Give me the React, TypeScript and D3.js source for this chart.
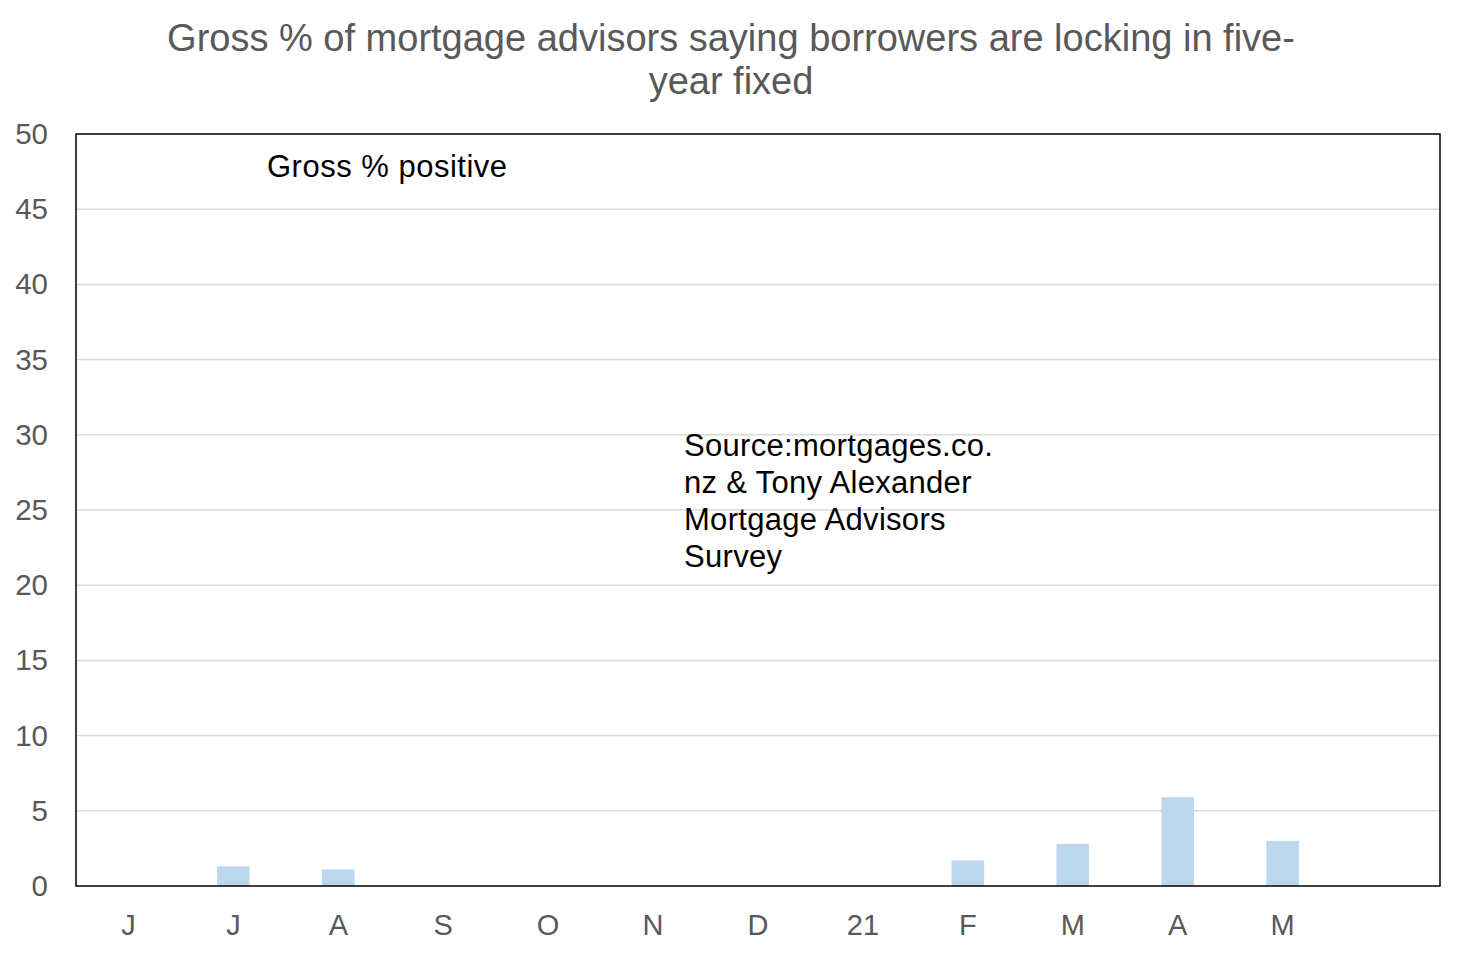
import React from "react";
import * as d3 from "d3";

const categories = ["J", "J", "A", "S", "O", "N", "D", "21", "F", "M", "A", "M", ""];
const values: (number | null)[] = [null, 1.3, 1.1, null, null, null, null, null, 1.7, 2.8, 5.9, 3.0, null];
const yTicks = [0, 5, 10, 15, 20, 25, 30, 35, 40, 45, 50];
const titleLines = ["Gross % of mortgage advisors saying borrowers are locking in five-", "year fixed"];
const sourceLines = ["Source:mortgages.co.", "nz & Tony Alexander", "Mortgage Advisors", "Survey"];
const seriesLabel = "Gross % positive";

const W = 1462, H = 954;
const L = 76, R = 1440, T = 134, B = 886;
const FONT = "'Liberation Sans', Arial, sans-serif";

export default function App() {
  const x = d3.scaleBand<string>().domain(categories.map((_, i) => String(i))).range([L, R]).paddingInner(0.69).paddingOuter(0.345);
  const y = d3.scaleLinear().domain([0, 50]).range([B, T]);
  return (
    <div style={{ position: "absolute", left: 0, top: 0 }}>
      <svg width={W} height={H} style={{ display: "block", background: "#fff" }}>
        {titleLines.map((t, i) => (
          <text key={i} x={731} y={51 + i * 43} textAnchor="middle" fontFamily={FONT} fontSize={38} fill="#595959">{t}</text>
        ))}
        {yTicks.filter(v => v > 0 && v < 50).map(v => (
          <line key={v} x1={L} x2={R} y1={y(v)} y2={y(v)} stroke="#d9d9d9" strokeWidth={1.5} />
        ))}
        {values.map((v, i) => v == null ? null : (
          <rect key={i} x={x(String(i))} y={y(v)} width={x.bandwidth()} height={y(0) - y(v)} fill="#bdd7ee" />
        ))}
        <rect x={L} y={T} width={R - L} height={B - T} fill="none" stroke="#000" strokeWidth={1.5} />
        {yTicks.map(v => (
          <text key={v} x={48} y={y(v) + 10} textAnchor="end" fontFamily={FONT} fontSize={29.5} fill="#595959">{v}</text>
        ))}
        {categories.map((c, i) => (
          <text key={i} x={(x(String(i)) as number) + x.bandwidth() / 2} y={935} textAnchor="middle" fontFamily={FONT} fontSize={29} fill="#595959">{c}</text>
        ))}
        <text x={267} y={177} fontFamily={FONT} fontSize={31} letterSpacing={0.5} fill="#000">{seriesLabel}</text>
        {sourceLines.map((t, i) => (
          <text key={i} x={684} y={456 + i * 37} fontFamily={FONT} fontSize={31} letterSpacing={0.3} fill="#000">{t}</text>
        ))}
      </svg>
    </div>
  );
}
